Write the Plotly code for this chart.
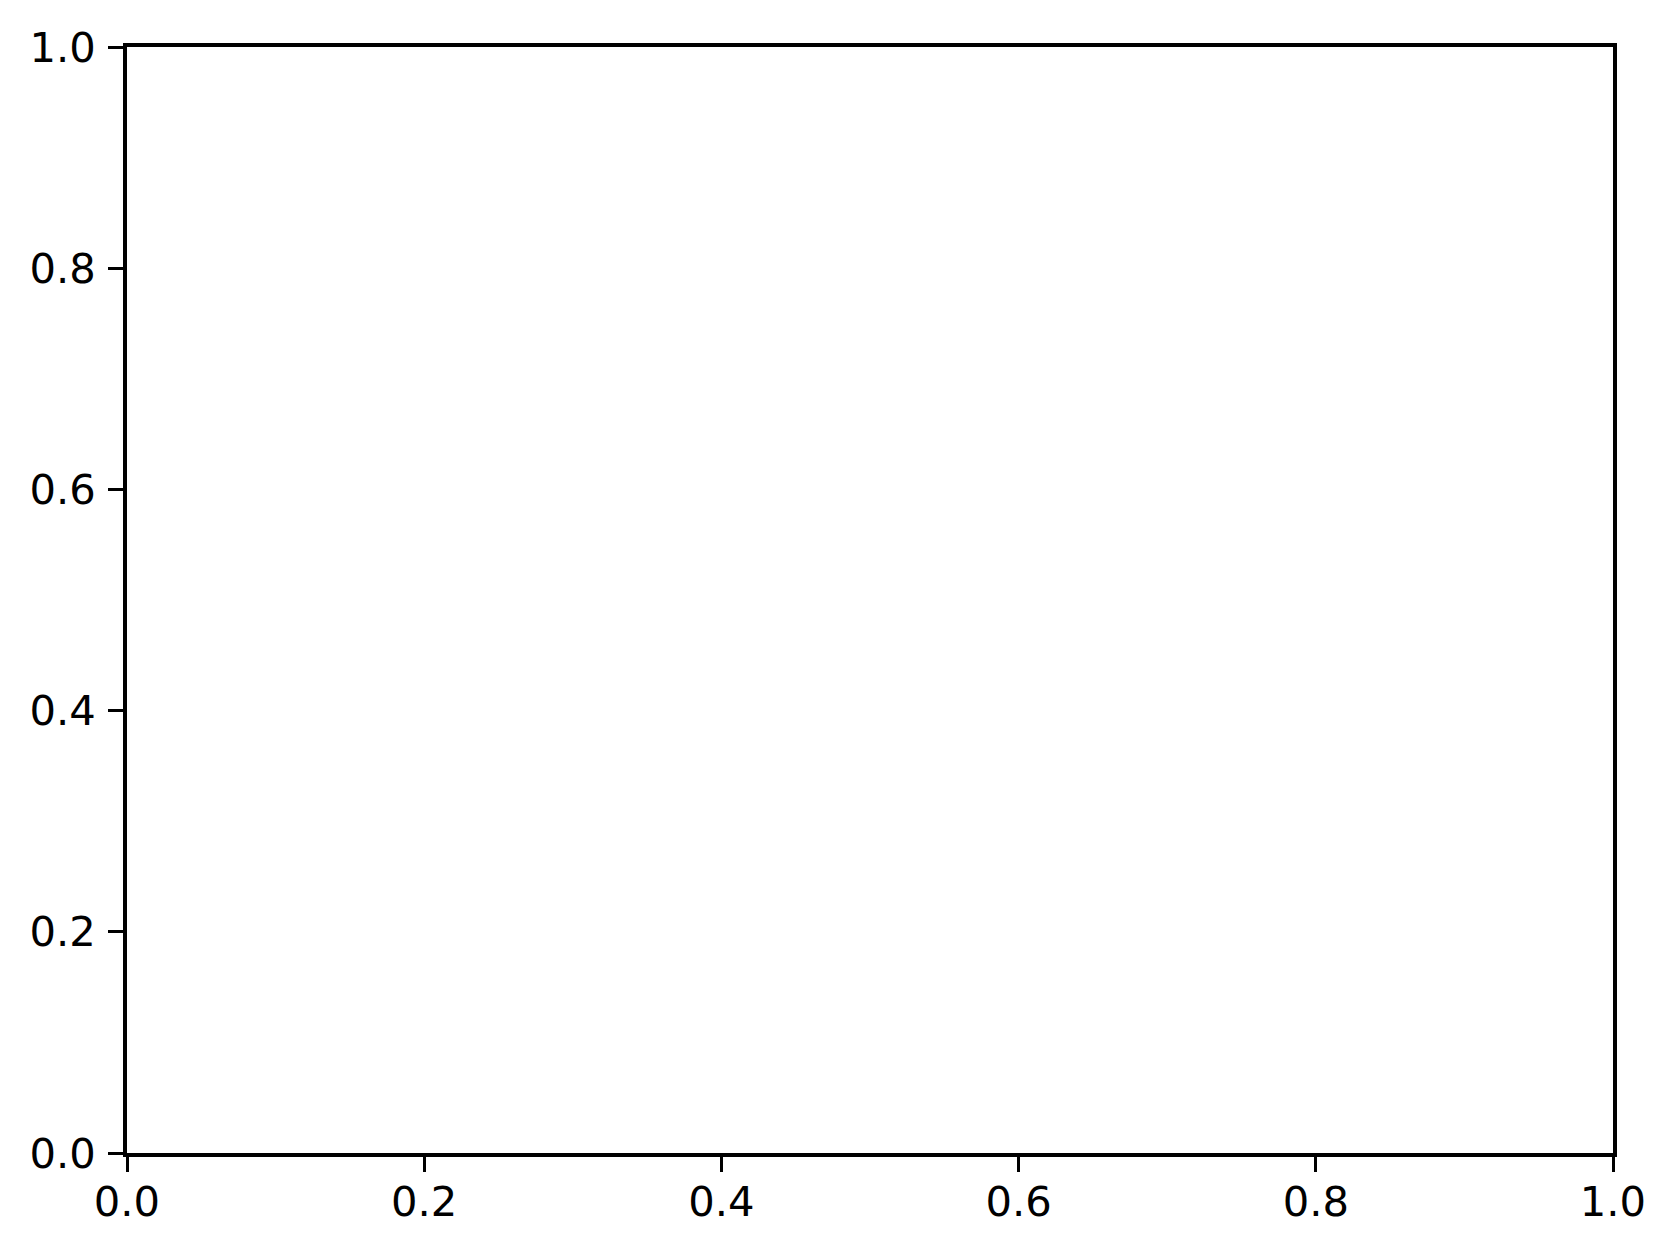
import plotly.graph_objects as go

# empty axes, nothing plotted
x_values = []
y_values = []
x_ticks = [0.0, 0.2, 0.4, 0.6, 0.8, 1.0]
y_ticks = [0.0, 0.2, 0.4, 0.6, 0.8, 1.0]
tick_labels = ["0.0", "0.2", "0.4", "0.6", "0.8", "1.0"]

fig = go.Figure()
fig.add_trace(go.Scatter(x=x_values, y=y_values, mode="lines", showlegend=False))

axis_style = dict(
    range=[0, 1],
    showline=True,
    mirror=True,
    linecolor="black",
    linewidth=3.5,
    ticks="outside",
    ticklen=15,
    tickwidth=3.3,
    tickcolor="black",
    showgrid=False,
    zeroline=False,
    tickfont=dict(family="DejaVu Sans", size=41.7, color="black"),
)

fig.update_xaxes(tickvals=x_ticks, ticktext=tick_labels, ticklabelstandoff=-6, **axis_style)
fig.update_yaxes(tickvals=y_ticks, ticktext=tick_labels, ticklabelstandoff=4, **axis_style)

# page body has an 8px margin, so margins are shifted to compensate
fig.update_layout(
    width=1676,
    height=1253,
    margin=dict(l=119, r=71, t=39, b=108),
    plot_bgcolor="white",
    paper_bgcolor="white",
    font=dict(family="DejaVu Sans", size=41.7, color="black"),
)

fig.write_html("out.html")
